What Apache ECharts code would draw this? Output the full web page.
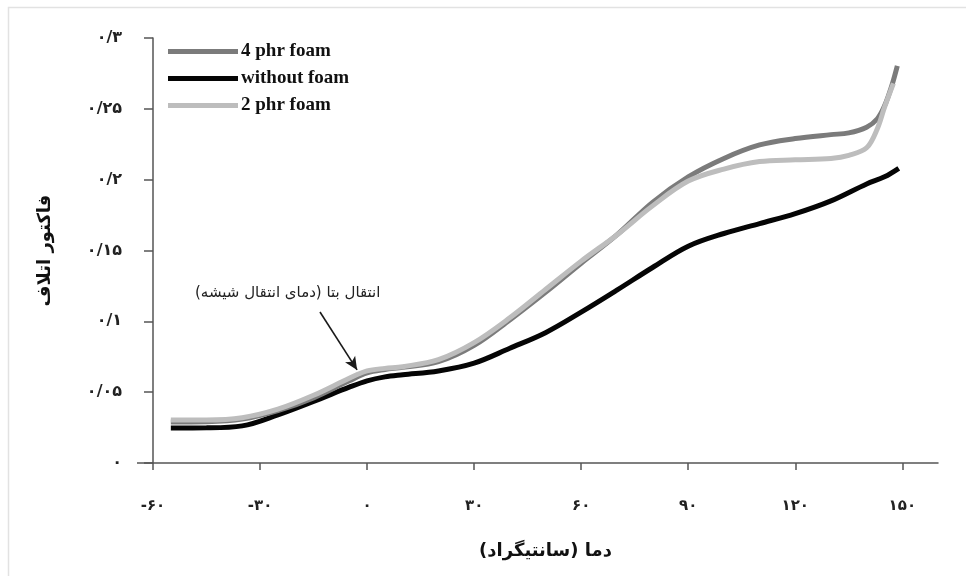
<!DOCTYPE html>
<html>
<head>
<meta charset="utf-8">
<script src="https://cdn.jsdelivr.net/npm/echarts@6/dist/echarts.min.js"></script>
<style>
  html, body { margin: 0; padding: 0; background: #fff; }
  #chart { width: 966px; height: 576px; }
</style>
</head>
<body>
<div id="chart"></div>
<script>
// Loss factor (tan δ) versus temperature for three foam loadings
const temps = [-55, -45, -35, -25, -15, -5, 0, 5, 10, 20, 30, 40, 50, 60, 70, 80, 90, 100, 110, 120, 130, 135, 140, 143, 145, 147, 148.6];
const foam4 = [0.029, 0.0292, 0.031, 0.037, 0.046, 0.058, 0.0636, 0.066, 0.0675, 0.0715, 0.083, 0.101, 0.1205, 0.141, 0.161, 0.184, 0.202, 0.215, 0.2245, 0.229, 0.2318, 0.233, 0.237, 0.243, 0.252, 0.266, 0.2804];

const tempsNoFoam = [-55, -45, -35, -25, -15, -5, 0, 5, 10, 20, 30, 40, 50, 60, 70, 80, 90, 100, 110, 120, 130, 140, 145, 149];
const noFoam = [0.0247, 0.0248, 0.0262, 0.034, 0.0435, 0.0535, 0.058, 0.0608, 0.0623, 0.065, 0.0705, 0.081, 0.092, 0.1065, 0.122, 0.138, 0.153, 0.162, 0.169, 0.176, 0.185, 0.197, 0.202, 0.208];

const temps2 = [-55, -45, -35, -25, -15, -5, 0, 5, 10, 20, 30, 40, 50, 60, 70, 80, 90, 100, 110, 120, 130, 135, 140, 143, 145, 147.5];
const foam2 = [0.0304, 0.0304, 0.032, 0.038, 0.0478, 0.0598, 0.065, 0.0668, 0.068, 0.073, 0.085, 0.1025, 0.1225, 0.1425, 0.161, 0.1815, 0.199, 0.2075, 0.2128, 0.214, 0.215, 0.2172, 0.2225, 0.236, 0.251, 0.268];

const seriesNames = ['4 phr foam', 'without foam', '2 phr foam'];
const xTickValues = [-60, -30, 0, 30, 60, 90, 120, 150];
const xTickLabels = ['-۶۰', '-۳۰', '۰', '۳۰', '۶۰', '۹۰', '۱۲۰', '۱۵۰'];
const yTickLabels = ['۰', '۰/۰۵', '۰/۱', '۰/۱۵', '۰/۲', '۰/۲۵', '۰/۳'];

const xTitle = 'دما (سانتیگراد)';
const yTitle = 'فاکتور اتلاف';
const noteText = 'انتقال بتا (دمای انتقال شیشه)';
// arrow from the note to the beta-transition shoulder
const noteArrow = [[-13.2, 0.1066], [-2.8, 0.0657]];

const pairs = (xs, ys) => xs.map((x, i) => [x, ys[i]]);

const chart = echarts.init(document.getElementById('chart'), null, { renderer: 'canvas' });

const axisColor = '#555';
const persianFont = 'DejaVu Sans';

chart.setOption({
  backgroundColor: '#fff',
  animation: false,
  grid: { left: 153, right: 28, top: 38, bottom: 113, containLabel: false },
  legend: {
    orient: 'vertical',
    left: 163,
    top: 37,
    icon: 'rect',
    itemWidth: 70,
    itemHeight: 5,
    itemGap: 8,
    data: seriesNames,
    textStyle: { fontFamily: 'Liberation Serif', fontWeight: 'bold', fontSize: 19, color: '#111', padding: [0, 0, 0, -2] }
  },
  xAxis: {
    type: 'value',
    min: -60,
    max: 160,
    interval: 30,
    name: xTitle,
    nameLocation: 'middle',
    nameGap: 79,
    nameTextStyle: { fontFamily: persianFont, fontWeight: 'bold', fontSize: 18, color: '#111' },
    axisLine: { onZero: false, lineStyle: { color: axisColor, width: 1.5 } },
    axisTick: { length: 7, lineStyle: { color: axisColor, width: 1.5 }, customValues: xTickValues },
    axisLabel: {
      customValues: xTickValues,
      margin: 36,
      fontFamily: persianFont,
      fontWeight: 'bold',
      fontSize: 15,
      color: '#222',
      formatter: v => xTickLabels[xTickValues.indexOf(v)]
    },
    splitLine: { show: false }
  },
  yAxis: {
    type: 'value',
    min: 0,
    max: 0.3,
    interval: 0.05,
    name: yTitle,
    nameLocation: 'middle',
    nameGap: 99,
    nameRotate: 90,
    nameTextStyle: { fontFamily: persianFont, fontWeight: 'bold', fontSize: 18, color: '#111' },
    axisLine: { show: true, onZero: false, lineStyle: { color: axisColor, width: 1.5 } },
    axisTick: { show: true, inside: false, length: 9, lineStyle: { color: axisColor, width: 1.5 } },
    axisLabel: {
      margin: 31,
      fontFamily: persianFont,
      fontWeight: 'bold',
      fontSize: 16,
      color: '#222',
      formatter: v => yTickLabels[Math.round(v / 0.05)]
    },
    splitLine: { show: false }
  },
  series: [
    {
      name: seriesNames[0],
      type: 'line',
      data: pairs(temps, foam4),
      smooth: 0.35,
      symbol: 'none',
      z: 3,
      lineStyle: { color: '#7b7b7b', width: 5 },
      itemStyle: { color: '#7b7b7b' }
    },
    {
      name: seriesNames[1],
      type: 'line',
      data: pairs(tempsNoFoam, noFoam),
      smooth: 0.35,
      symbol: 'none',
      z: 2,
      lineStyle: { color: '#050505', width: 5 },
      itemStyle: { color: '#050505' },
      markLine: {
        silent: true,
        symbol: ['none', 'arrow'],
        symbolSize: [9, 13],
        label: { show: false },
        lineStyle: { color: '#1a1a1a', width: 1.6, type: 'solid' },
        data: [[{ coord: noteArrow[0] }, { coord: noteArrow[1] }]]
      }
    },
    {
      name: seriesNames[2],
      type: 'line',
      data: pairs(temps2, foam2),
      smooth: 0.35,
      symbol: 'none',
      z: 4,
      lineStyle: { color: '#bdbdbd', width: 5 },
      itemStyle: { color: '#bdbdbd' }
    }
  ],
  graphic: [
    {
      type: 'rect',
      silent: true,
      z: -10,
      shape: { x: 8.5, y: 7.5, width: 1000, height: 1000 },
      style: { fill: null, stroke: '#e2e2e2', lineWidth: 1.5 }
    },
    {
      // short stub of the temperature axis left of the value axis
      type: 'line',
      silent: true,
      shape: { x1: 137, y1: 463, x2: 153, y2: 463 },
      style: { stroke: axisColor, lineWidth: 1.5 }
    },
    {
      type: 'text',
      left: 195,
      top: 286,
      silent: true,
      style: { text: noteText, font: '15px "DejaVu Sans"', fill: '#222' }
    }
  ]
});
</script>
</body>
</html>
